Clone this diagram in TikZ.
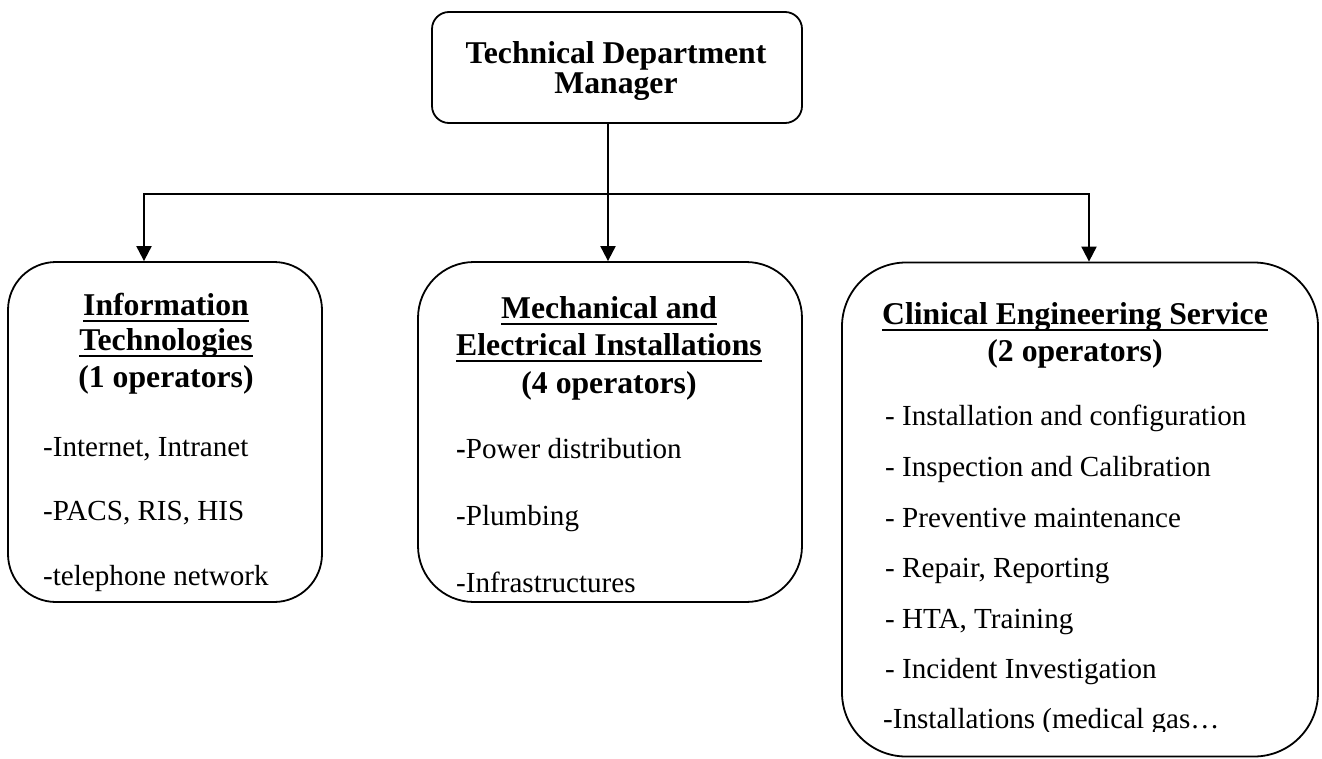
\documentclass[tikz,border=0pt]{standalone}
\usepackage{fontspec}
\setmainfont{Liberation Serif}
\usetikzlibrary{arrows.meta}
\newsavebox\ulbox
\newcommand\ulx[1]{\sbox\ulbox{#1}\rlap{\rule[-7.2pt]{\wd\ulbox}{2.4pt}}\usebox\ulbox}
\begin{document}
\begin{tikzpicture}[x=1pt,y=-1pt,
  box/.style={draw, line width=1.8pt, inner sep=0pt},
  hd/.style={font=\fontsize{31.7}{36}\selectfont\bfseries, inner sep=0pt, anchor=base},
  itm/.style={font=\fontsize{29.1}{34}\selectfont, inner sep=0pt, anchor=base west},
  conn/.style={line width=2pt},
  tip/.tip={Triangle[length=15pt,width=15pt]}]
\useasboundingbox (0,0) rectangle (1322,758);

% boxes
\node[box, rounded corners=17pt, minimum width=370pt, minimum height=111pt] (top) at (617,67.5) {};
\node[box, rounded corners=48pt, minimum width=314pt, minimum height=340pt] (it) at (165,432) {};
\node[box, rounded corners=56pt, minimum width=384pt, minimum height=340pt] (mei) at (610,432) {};
\node[box, rounded corners=64pt, minimum width=476pt, minimum height=494pt] (ces) at (1080,509.5) {};

% top text
\node[hd] (t1) at (616,63) {Technical Department};
\node[hd] (t2) at (616,93) {Manager};

% left box
\node[hd] (a1) at (166,315) {\ulx{Information}};
\node[hd] (a2) at (166,350) {\ulx{Technologies}};
\node[hd] (a3) at (166,387) {(1 operators)};
\node[itm] (a4) at (43,456) {-Internet, Intranet};
\node[itm] (a5) at (43,520) {-PACS, RIS, HIS};
\node[itm] (a6) at (43,585) {-telephone network};

% middle box
\node[hd] (b1) at (609,318) {\ulx{Mechanical and}};
\node[hd] (b2) at (609,355) {\ulx{Electrical Installations}};
\node[hd] (b3) at (609,393) {(4 operators)};
\node[itm] (b4) at (456,458) {\textbf{-}Power distribution};
\node[itm] (b5) at (456,525) {-Plumbing};
\node[itm] (b6) at (456,592) {-Infrastructures};

% right box
\node[hd] (c1) at (1075,324) {\ulx{Clinical Engineering Service}};
\node[hd] (c2) at (1075,361) {(2 operators)};
\node[itm] (c3) at (885,425) {- Installation and configuration};
\node[itm] (c4) at (885,476) {- Inspection and Calibration};
\node[itm] (c5) at (885,527) {- Preventive maintenance};
\node[itm] (c6) at (885,577) {- Repair, Reporting};
\node[itm] (c7) at (885,628) {- HTA, Training};
\node[itm] (c8) at (885,678) {- Incident Investigation};
\begin{scope}
  \clip (850,690) rectangle (1310,731);
  \node[itm] (c9) at (883,728) {-Installations (medical gas…};
\end{scope}

% connectors
\coordinate (ts) at ([xshift=-9pt]top.south);
\coordinate (jl) at (144,194);
\coordinate (jr) at (1089,194);
\draw[conn, tip-tip] (jl |- it.north) -- (jl) -- (jr) -- (jr |- ces.north);
\draw[conn, -tip] (ts) -- (ts |- mei.north);
\end{tikzpicture}
\end{document}
